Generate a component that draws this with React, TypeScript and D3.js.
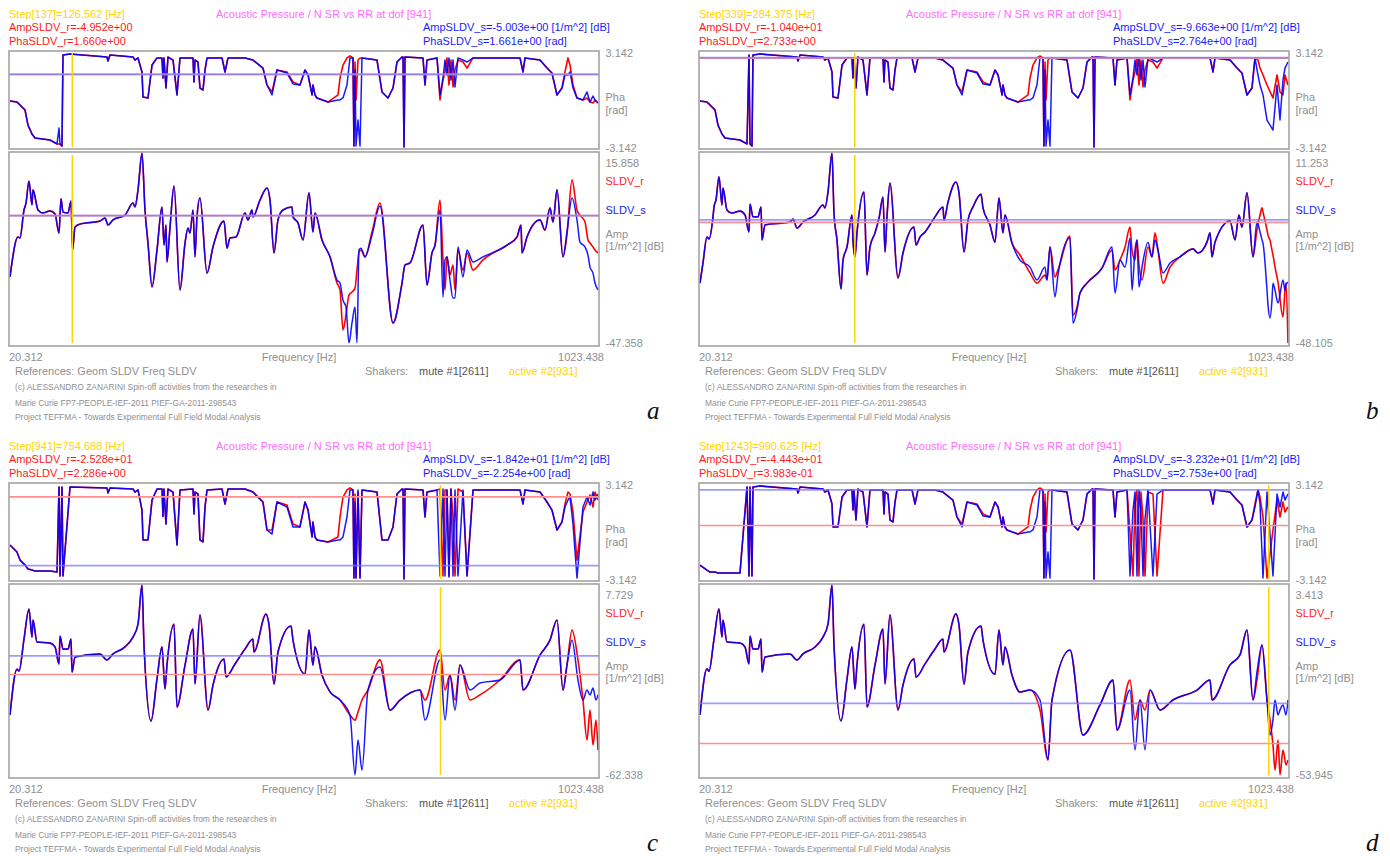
import React from 'react';
import * as d3 from 'd3';

// Frequency axis limits [Hz] and phase limits [rad]
const FREQ_MIN = 20.312;
const FREQ_MAX = 1023.438;
const PHA_MIN = -3.142;
const PHA_MAX = 3.142;

// Frequency grid of the phase traces [Hz]
const PHA_FREQ = [
  20.3, 32.2, 37.4, 45.9, 51.0, 57.8, 62.9, 88.5, 100.5, 103.9,
  105.6, 109.0, 110.7, 122.7, 185.8, 187.5, 190.9, 230.1, 233.5, 238.7,
  245.5, 247.2, 255.7, 262.6, 271.1, 279.6, 281.3, 283.0, 286.4, 289.8,
  298.4, 305.2, 310.3, 332.5, 334.2, 335.9, 341.0, 344.4, 349.6, 353.0,
  356.4, 382.0, 387.1, 392.2, 421.2, 434.8, 451.9, 458.7, 467.3, 475.8,
  492.9, 503.1, 515.0, 523.6, 528.8, 535.6, 537.2, 540.6, 544.0, 562.8,
  579.9, 583.3, 588.4, 595.2, 600.3, 605.4, 607.1, 608.9, 610.6, 614.0,
  617.4, 620.8, 646.4, 654.9, 665.2, 673.7, 680.5, 689.1, 690.8, 692.5,
  694.2, 724.9, 728.3, 731.7, 748.8, 753.9, 759.0, 762.4, 765.8, 769.2,
  772.6, 776.1, 779.5, 784.6, 793.1, 800.0, 810.2, 890.4, 895.5, 898.9,
  924.5, 936.4, 944.9, 953.5, 962.0, 967.1, 972.2, 975.7, 980.8, 987.6,
  997.8, 1004.7, 1009.8, 1014.9, 1018.3, 1023.4,
];

// Step 137: phase [rad]
const PHA_S_A = [
  -0.10, -0.17, -0.36, -0.69, -1.69, -2.28, -2.55, -2.68, -2.94, -1.89,
  -2.94, -3.08, 2.94, 3.01, 2.81, 2.55, 2.94, 2.81, 2.61, 2.75,
  1.82, 0.17, 0.10, 2.28, 2.75, 2.75, 1.42, 2.75, 0.76, 2.81,
  2.61, 0.30, 2.75, 2.75, 1.16, 2.61, 2.48, 0.76, 0.63, 1.95,
  2.75, 2.75, 1.82, 2.75, 2.75, 2.61, 2.08, 0.96, 0.30, 1.95,
  1.75, 1.03, 0.96, 1.95, 1.62, 0.30, 0.96, 0.30, 0.10, -0.17,
  -0.03, -0.03, 0.10, 0.96, 2.75, 2.75, -3.08, 1.95, -3.08, -1.36,
  -3.08, 2.75, 2.61, 0.50, 0.10, 0.76, 2.48, 2.81, 2.81, -3.14,
  2.81, 2.75, 0.96, 2.61, 2.75, 0.30, 1.42, 2.61, 1.62, 2.75,
  1.29, 2.61, 0.83, 2.75, 2.61, 2.48, 2.75, 2.75, 1.82, 2.75,
  2.61, 2.08, 1.75, 0.30, 0.76, 1.62, 1.62, 1.82, 0.76, 0.10,
  -0.03, 0.50, -0.17, 0.23, -0.03, -0.23,
];
const PHA_R_A = [
  -0.10, -0.17, -0.36, -0.69, -1.69, -2.28, -2.55, -2.68, -2.94, -2.94,
  -2.94, -3.08, 2.94, 3.01, 2.81, 2.55, 2.94, 2.81, 2.61, 2.75,
  1.82, 0.17, 0.10, 2.28, 2.75, 2.75, 1.42, 2.75, 0.76, 2.81,
  2.61, 0.30, 2.75, 2.75, 1.16, 2.61, 2.48, 0.76, 0.63, 1.95,
  2.75, 2.75, 1.82, 2.75, 2.75, 2.61, 2.08, 0.96, 0.50, 1.95,
  1.82, 1.16, 0.96, 1.95, 1.62, 0.30, 0.96, 0.30, 0.10, -0.17,
  0.30, 1.42, 2.28, 2.75, 2.88, 2.75, -3.08, 2.48, -0.03, 2.61,
  2.75, 2.75, 2.61, 0.50, 0.10, 0.76, 2.48, 2.81, 2.81, -3.14,
  2.81, 2.75, 0.96, 2.61, 2.75, -0.03, 1.29, 1.82, 2.75, 0.96,
  2.61, 0.83, 1.95, 2.61, 2.48, 2.08, 2.75, 2.75, 1.82, 2.75,
  2.61, 2.08, 1.75, 0.30, 0.76, 1.82, 2.75, 2.28, 0.96, 0.10,
  -0.03, 0.10, -0.17, -0.23, -0.03, -0.23,
];

// Step 339: phase [rad]
const PHA_S_B = [
  -0.10, -0.17, -0.36, -0.69, -1.69, -2.28, -2.55, -2.68, -2.94, 2.94,
  -2.94, -3.08, 2.94, 3.01, 2.81, 2.55, 2.94, 2.81, 2.61, 2.75,
  1.82, 0.17, 0.10, 2.28, 2.75, 2.75, 1.42, 2.75, 0.76, 2.81,
  2.61, 0.30, 2.75, 2.75, 1.16, 2.61, 2.48, 0.76, 0.63, 1.95,
  2.75, 2.75, 1.82, 2.75, 2.75, 2.61, 2.08, 0.96, 0.30, 1.95,
  1.75, 1.03, 0.96, 1.95, 1.62, 0.30, 0.96, 0.30, 0.10, -0.17,
  -0.03, -0.03, 0.10, 0.96, 2.75, 2.75, -3.08, 1.95, -3.08, -1.36,
  -3.08, 2.75, 2.61, 0.50, 0.10, 0.76, 2.48, 2.81, 2.81, -3.14,
  2.81, 2.75, 0.96, 2.61, 2.75, 0.30, 1.42, 2.61, 1.62, 2.75,
  1.29, 2.61, 0.83, 2.75, 2.61, 2.48, 2.75, 2.75, 1.82, 2.75,
  2.61, 2.08, 1.75, 0.30, 0.76, 2.75, 1.62, 0.96, 0.30, -1.36,
  -2.02, 0.96, -1.36, 1.29, 2.08, 2.48,
];
const PHA_R_B = [
  -0.10, -0.17, -0.36, -0.69, -1.69, -2.28, -2.55, -2.68, -2.94, 2.94,
  -2.94, -3.08, 2.94, 3.01, 2.81, 2.55, 2.94, 2.81, 2.61, 2.75,
  1.82, 0.17, 0.10, 2.28, 2.75, 2.75, 1.42, 2.75, 0.76, 2.81,
  2.61, 0.30, 2.75, 2.75, 1.16, 2.61, 2.48, 0.76, 0.63, 1.95,
  2.75, 2.75, 1.82, 2.75, 2.75, 2.61, 2.08, 0.96, 0.50, 1.95,
  1.82, 1.16, 0.96, 1.95, 1.62, 0.30, 0.96, 0.30, 0.10, -0.17,
  0.30, 1.42, 2.28, 2.75, 2.88, 2.75, -3.08, 2.48, -0.03, 2.61,
  2.75, 2.75, 2.61, 0.50, 0.10, 0.76, 2.48, 2.81, 2.81, -3.14,
  2.81, 2.75, 0.96, 2.61, 2.75, -0.03, 1.29, 1.82, 2.75, 0.96,
  2.61, 0.83, 1.95, 2.61, 2.48, 2.08, 2.75, 2.75, 1.82, 2.75,
  2.61, 2.08, 1.75, 0.30, 0.76, 2.75, 2.61, 2.08, 1.62, 0.96,
  0.10, 1.62, 0.50, 0.30, 1.62, 0.96,
];

// Step 941: phase [rad]
const PHA_S_C = [
  -0.89, -1.36, -1.89, -2.22, -2.48, -2.55, -2.61, -2.61, -2.68, 2.94,
  -2.94, 2.94, -2.94, 2.94, 2.88, 2.55, 2.88, 2.81, 2.61, 2.75,
  1.42, -0.56, -0.56, 2.08, 2.81, 2.81, 1.00, 2.81, 0.50, 2.81,
  2.61, -0.89, 2.75, 2.81, 1.16, 2.61, 2.48, -0.56, -0.69, 1.62,
  2.75, 2.81, 1.82, 2.81, 2.81, 2.61, 1.95, 0.10, -0.17, 1.95,
  1.62, 0.30, 0.30, 1.95, 1.42, -0.36, 0.63, -0.36, -0.56, -0.69,
  -0.56, -0.56, -0.36, 0.96, 2.75, 2.75, -3.08, 1.95, -3.08, 2.75,
  -3.08, 2.75, 2.61, -0.56, -0.56, 0.30, 2.48, 2.81, 2.81, -3.14,
  2.81, 2.75, 0.96, 2.61, 2.75, -2.94, 2.81, -2.94, 2.75, -3.01,
  2.81, -2.94, 2.75, -2.94, 2.75, -2.94, 2.75, 2.75, 1.82, 2.75,
  2.61, 1.95, 1.42, 0.10, 0.63, 1.62, 2.08, 2.28, 0.50, -3.08,
  1.62, 2.28, 1.75, 2.61, 2.08, 2.48,
];
const PHA_R_C = [
  -0.89, -1.36, -1.89, -2.22, -2.48, -2.55, -2.61, -2.61, -2.68, 2.94,
  -2.94, 2.94, -2.94, 2.94, 2.88, 2.55, 2.88, 2.81, 2.61, 2.75,
  1.42, -0.56, -0.56, 2.08, 2.81, 2.81, 1.00, 2.81, 0.50, 2.81,
  2.61, -0.89, 2.75, 2.81, 1.16, 2.61, 2.48, -0.56, -0.69, 1.62,
  2.75, 2.81, 1.82, 2.81, 2.81, 2.61, 1.95, 0.10, 0.10, 1.95,
  1.75, 0.50, 0.30, 1.95, 1.42, -0.36, 0.63, -0.36, -0.56, -0.69,
  -0.36, 0.96, 2.28, 2.75, 2.88, 2.75, -3.08, 2.48, -3.08, 2.61,
  -3.08, 2.75, 2.61, -0.56, -0.56, 0.30, 2.48, 2.81, 2.81, -3.14,
  2.81, 2.75, 0.96, 2.61, 2.75, 2.81, -2.94, 2.75, 2.75, -2.94,
  2.81, 1.00, -2.94, 2.81, 2.61, -2.94, 2.75, 2.75, 1.82, 2.75,
  2.61, 1.95, 1.42, 0.10, 0.63, 1.82, 2.61, 2.48, 1.29, -1.89,
  1.29, 1.95, 2.41, 1.62, 2.61, 2.08,
];

// Step 1243: phase [rad]
const PHA_S_D = [
  -2.22, -2.55, -2.68, -2.68, -2.75, -2.75, -2.75, -2.75, 2.94, -2.94,
  2.94, -2.94, 2.94, 3.01, 2.81, 2.55, 2.94, 2.81, 2.61, 2.75,
  1.82, 0.30, 0.30, 2.28, 2.75, 2.75, 1.42, 2.75, 0.76, 2.81,
  2.61, 0.30, 2.75, 2.75, 1.16, 2.61, 2.48, 0.76, 0.63, 1.95,
  2.75, 2.75, 1.82, 2.75, 2.75, 2.61, 2.08, 0.96, 0.30, 1.95,
  1.75, 1.03, 0.96, 1.95, 1.62, 0.30, 0.96, 0.30, 0.10, -0.17,
  -0.03, -0.03, 0.10, 0.96, 2.75, 2.75, -3.08, 1.95, -3.08, -1.36,
  -3.08, 2.75, 2.61, 0.50, 0.10, 0.76, 2.48, 2.81, 2.81, -3.14,
  2.81, 2.75, 0.96, 2.61, 2.75, -2.94, 1.42, 2.61, -2.94, 2.75,
  1.29, -2.94, 0.83, 2.75, -2.94, 2.48, 2.75, 2.75, 1.82, 2.75,
  2.61, 2.08, 1.75, 0.30, 0.76, 1.62, 2.75, 1.82, -3.08, 2.61,
  -2.94, 2.48, 1.62, 2.61, 2.08, 2.48,
];
const PHA_R_D = [
  -2.22, -2.55, -2.68, -2.68, -2.75, -2.75, -2.75, -2.75, 2.94, -2.94,
  2.94, -2.94, 2.94, 3.01, 2.81, 2.55, 2.94, 2.81, 2.61, 2.75,
  1.82, 0.30, 0.30, 2.28, 2.75, 2.75, 1.42, 2.75, 0.76, 2.81,
  2.61, 0.30, 2.75, 2.75, 1.16, 2.61, 2.48, 0.76, 0.63, 1.95,
  2.75, 2.75, 1.82, 2.75, 2.75, 2.61, 2.08, 0.96, 0.50, 1.95,
  1.82, 1.16, 0.96, 1.95, 1.62, 0.30, 0.96, 0.30, 0.10, -0.17,
  0.30, 1.42, 2.28, 2.75, 2.88, 2.75, -3.08, 2.48, -0.03, 2.61,
  2.75, 2.75, 2.61, 0.50, 0.10, 0.76, 2.48, 2.81, 2.81, -3.14,
  2.81, 2.75, 0.96, 2.61, 2.75, -0.03, -2.94, 1.82, 2.75, -2.94,
  2.61, 0.83, -2.94, 2.61, 2.48, -2.94, 2.75, 2.75, 1.82, 2.75,
  2.61, 2.08, 1.75, 0.30, 0.76, 1.82, 2.75, 2.28, 0.96, -3.08,
  0.10, 2.08, 0.96, 1.95, 1.29, 1.62,
];

// Step 137: amplitude [dB]
const AMP_FREQ_A = [
  20.3, 33.9, 37.4, 44.2, 47.6, 52.7, 57.8, 59.5, 68.1, 76.6,
  88.5, 97.1, 103.9, 107.3, 110.7, 119.3, 124.4, 127.0, 131.2, 139.7,
  173.8, 182.4, 187.5, 196.0, 216.5, 230.1, 233.5, 238.7, 245.5, 250.6,
  255.7, 262.6, 271.1, 279.6, 283.0, 286.4, 288.1, 293.3, 300.1, 310.3,
  318.9, 324.0, 327.4, 332.5, 335.9, 339.3, 344.4, 356.4, 366.6, 385.4,
  390.5, 395.6, 405.9, 421.2, 426.3, 433.1, 434.8, 446.8, 458.7, 463.9,
  470.7, 477.5, 486.0, 501.4, 503.1, 511.6, 520.2, 530.4, 537.2, 540.6,
  552.6, 566.2, 578.2, 583.3, 588.4, 593.5, 598.6, 603.8, 608.9, 612.3,
  615.7, 619.1, 625.9, 637.9, 651.5, 673.7, 689.1, 694.2, 702.7, 724.9,
  731.7, 740.2, 745.4, 753.9, 759.0, 762.4, 765.8, 770.9, 776.1, 779.5,
  784.6, 793.1, 800.0, 810.2, 827.2, 868.2, 885.2, 892.1, 893.8, 902.3,
  924.5, 933.0, 941.5, 946.7, 953.5, 963.7, 970.5, 979.1, 987.6, 992.7,
  1001.3, 1006.4, 1009.8, 1014.9, 1018.3, 1023.4,
];
const AMP_S_A = [
  -25.4, -12.1, -12.4, -3.1, -0.8, 6.5, -1.4, 3.6, -3.1, -4.1,
  -3.4, -4.4, -10.8, 0.6, -3.8, -4.1, -0.1, -16.4, -8.8, -7.8,
  -6.8, -5.8, -8.1, -6.4, -4.8, -0.8, -2.1, 3.6, 15.8, -3.1,
  -14.1, -28.7, -16.4, -2.1, -14.8, -8.1, -20.4, -8.8, 4.9, -29.7,
  -14.1, -9.1, -10.8, -3.1, -18.7, -5.4, 0.9, -24.1, -15.4, -6.8,
  -15.8, -12.4, -12.1, -4.1, -6.4, -3.1, -5.4, 0.2, 4.2, 0.2,
  -17.4, -6.4, -3.1, -2.1, -5.4, -7.4, -13.1, 2.6, -10.4, -4.1,
  -13.1, -18.7, -26.4, -27.4, -33.1, -35.4, -47.3, -40.7, -35.4, -47.3,
  -16.4, -15.8, -18.7, -11.4, -1.8, -40.7, -27.4, -21.4, -20.7, -8.1,
  -28.1, -17.4, -14.8, -3.1, -32.1, -19.7, -18.7, -26.4, -32.4, -32.4,
  -15.4, -25.4, -16.4, -20.4, -18.7, -14.8, -12.1, -8.1, -17.4, -12.1,
  -6.4, -9.8, -2.4, -7.1, 3.6, -18.7, -10.4, 0.9, -6.4, -13.8,
  -15.4, -18.1, -22.1, -24.1, -27.4, -29.7,
];
const AMP_R_A = [
  -25.4, -12.1, -12.4, -3.1, -0.8, 6.5, -1.4, 3.6, -3.1, -4.1,
  -3.4, -4.4, -10.8, 0.6, -3.8, -4.1, -0.1, -16.4, -8.8, -7.8,
  -6.8, -5.8, -8.1, -6.4, -4.8, -0.8, -2.1, 3.6, 15.8, -3.1,
  -14.1, -28.7, -16.4, -2.1, -14.8, -8.1, -20.4, -8.8, 4.9, -29.7,
  -14.1, -9.1, -10.8, -3.1, -18.7, -5.4, 0.9, -24.1, -15.4, -6.8,
  -15.8, -12.4, -12.1, -4.1, -6.4, -3.1, -5.4, 0.2, 4.2, 0.2,
  -17.4, -6.4, -3.1, -2.1, -5.4, -7.4, -13.1, 2.6, -10.4, -4.1,
  -13.1, -18.7, -27.4, -29.7, -43.0, -38.0, -31.4, -30.4, -29.1, -23.1,
  -17.1, -16.4, -18.7, -10.4, -0.8, -40.7, -27.4, -21.4, -20.7, -8.1,
  -28.1, -17.4, -14.8, 0.2, -19.7, -29.7, -18.7, -24.7, -21.4, -29.7,
  -16.4, -23.1, -17.4, -23.1, -19.7, -14.8, -12.1, -8.1, -17.4, -12.1,
  -6.4, -9.8, -2.4, -7.1, 3.6, -18.7, -11.4, 6.9, -3.1, -4.8,
  -7.1, -13.1, -14.1, -15.4, -16.4, -17.4,
];

// Step 339: amplitude [dB]
const AMP_FREQ_B = [
  20.3, 25.4, 32.2, 35.7, 42.5, 44.2, 47.6, 52.7, 57.8, 59.5,
  66.4, 74.9, 88.5, 97.1, 103.9, 105.6, 110.7, 119.3, 124.4, 126.1,
  131.2, 173.8, 179.0, 185.8, 196.0, 216.5, 230.1, 233.5, 238.7, 245.5,
  248.9, 254.0, 260.9, 264.3, 271.1, 279.6, 281.3, 284.7, 288.1, 300.1,
  305.2, 310.3, 318.9, 325.7, 332.5, 335.9, 339.3, 344.4, 358.1, 366.6,
  385.4, 388.8, 395.6, 404.2, 421.2, 434.8, 436.5, 443.4, 457.0, 462.2,
  470.7, 477.5, 486.0, 499.7, 503.1, 515.0, 523.6, 530.4, 537.2, 540.6,
  552.6, 566.2, 583.3, 595.2, 608.9, 612.3, 617.4, 625.9, 631.0, 651.5,
  656.6, 663.5, 668.6, 680.5, 706.1, 723.2, 728.3, 736.8, 745.4, 753.9,
  757.3, 762.4, 765.8, 769.2, 774.4, 784.6, 791.4, 796.5, 801.6, 810.2,
  822.2, 839.2, 861.4, 869.9, 885.2, 890.4, 893.8, 898.9, 924.5, 933.0,
  939.8, 944.9, 953.5, 963.7, 970.5, 975.7, 979.1, 980.8, 987.6, 989.3,
  992.7, 996.1, 997.8, 1001.3, 1006.4, 1014.9, 1018.3, 1020.0, 1023.4,
];
const AMP_S_B = [
  -29.4, -23.1, -15.0, -15.6, -8.7, -5.6, -3.4, 3.8, -5.0, 0.3,
  -6.6, -7.5, -6.9, -8.1, -13.4, -4.7, -8.7, -8.7, -5.6, -15.9,
  -11.2, -10.3, -9.4, -12.2, -10.3, -8.1, -5.0, -5.9, -0.9, 11.2,
  -7.5, -15.9, -31.2, -22.2, -18.1, -8.1, -15.9, -21.2, -13.7, -0.9,
  -26.9, -18.1, -13.7, -9.1, -2.5, -19.7, -8.7, 1.9, -27.8, -20.0,
  -11.9, -17.5, -15.0, -13.4, -8.7, -5.6, -9.7, -4.1, 2.2, -1.2,
  -19.7, -9.7, -5.6, -1.6, -5.9, -11.2, -16.6, -2.8, -13.7, -8.1,
  -16.9, -22.2, -24.4, -28.4, -24.4, -28.4, -18.1, -33.7, -26.9, -15.3,
  -41.9, -37.8, -32.5, -29.4, -24.7, -18.1, -32.5, -22.2, -24.4, -15.3,
  -31.6, -19.1, -15.9, -30.6, -24.4, -16.6, -21.2, -15.9, -19.1, -26.2,
  -23.1, -21.2, -18.7, -20.0, -16.6, -13.7, -21.2, -16.6, -10.0, -15.9,
  -8.1, -11.9, -1.2, -21.2, -10.3, -13.4, -15.9, -16.9, -31.6, -36.2,
  -40.3, -34.7, -29.4, -31.6, -35.6, -28.4, -31.6, -30.0, -29.1,
];
const AMP_R_B = [
  -29.4, -23.1, -15.0, -15.6, -8.7, -5.6, -3.4, 3.8, -5.0, 0.3,
  -6.6, -7.5, -6.9, -8.1, -13.4, -4.7, -8.7, -8.7, -5.6, -15.9,
  -11.2, -10.3, -9.4, -12.2, -10.3, -8.1, -5.0, -5.9, -0.9, 11.2,
  -7.5, -15.9, -31.2, -22.2, -18.1, -8.1, -15.9, -21.2, -13.7, -0.9,
  -26.9, -18.1, -13.7, -9.1, -2.5, -19.7, -8.7, 1.9, -27.8, -20.0,
  -11.9, -17.5, -15.0, -13.4, -8.7, -5.6, -9.7, -4.1, 2.2, -1.2,
  -19.7, -9.7, -5.6, -1.6, -5.9, -11.2, -16.6, -2.8, -13.7, -8.1,
  -16.9, -20.6, -26.2, -29.4, -26.9, -28.4, -18.1, -27.5, -25.3, -14.7,
  -39.4, -36.9, -32.5, -29.4, -24.7, -19.1, -25.3, -22.2, -18.1, -11.9,
  -19.1, -22.2, -15.9, -23.7, -28.4, -18.1, -21.2, -13.7, -19.1, -29.4,
  -24.4, -21.2, -18.7, -20.0, -16.6, -13.7, -21.2, -16.6, -10.0, -15.9,
  -8.1, -11.9, -1.2, -21.2, -12.8, -8.1, -5.9, -7.2, -12.8, -14.4,
  -15.9, -19.1, -20.6, -24.4, -29.1, -40.0, -31.6, -29.4, -48.1,
];

// Step 941: amplitude [dB]
const AMP_FREQ_C = [
  20.3, 32.2, 35.7, 44.2, 52.7, 57.8, 59.5, 66.4, 88.5, 97.1,
  103.9, 105.6, 110.7, 119.3, 124.4, 126.1, 131.2, 173.8, 185.8, 196.0,
  216.5, 230.1, 238.7, 245.5, 248.9, 260.9, 271.1, 279.6, 284.7, 288.1,
  300.1, 305.2, 318.9, 332.5, 335.9, 344.4, 358.1, 366.6, 385.4, 388.8,
  404.2, 421.2, 434.8, 436.5, 457.0, 462.2, 470.7, 477.5, 499.7, 503.1,
  523.6, 530.4, 537.2, 540.6, 552.6, 566.2,
  583.3, 600.3, 608.9, 614.0, 620.8, 631.0, 651.5, 668.6, 685.6, 719.8,
  728.3, 753.9, 762.4, 770.9, 779.5, 788.0, 805.1, 822.1, 856.2, 890.4,
  895.5, 924.5, 941.5, 953.5, 963.7, 970.5, 979.1, 989.3, 997.8, 1004.7,
  1009.8, 1014.9, 1020.0, 1023.4,
];
const AMP_S_C = [
  -40.2, -23.3, -24.0, -12.2, -1.1, -11.5, -5.2, -13.3, -13.7, -15.1,
  -21.4, -11.1, -15.9, -15.9, -12.2, -24.4, -18.8, -17.7, -19.9, -17.7,
  -15.1, -11.5, -6.7, 7.7, -14.4, -42.4, -26.9, -15.1, -30.6, -21.8,
  -6.7, -37.3, -21.8, -8.5, -28.8, -3.3, -38.4, -29.2, -19.6, -26.2,
  -21.4, -15.9, -12.2, -17.0, -3.0, -7.0, -28.8, -17.0, -7.4, -12.6,
  -25.1, -8.9, -21.8, -15.1, -25.5, -31.7,
  -34.7, -40.2, -62.3, -49.4, -60.5, -31.0, -22.5, -38.4, -34.7, -31.0,
  -42.1, -19.9, -42.1, -25.5, -38.4, -21.8, -31.0, -28.4, -27.3, -19.9,
  -31.0, -18.1, -12.6, -5.2, -31.0, -21.8, -12.6, -27.3, -34.7, -31.0,
  -32.8, -30.3, -34.7, -32.8,
];
const AMP_R_C = [
  -40.2, -23.3, -24.0, -12.2, -1.1, -11.5, -5.2, -13.3, -13.7, -15.1,
  -21.4, -11.1, -15.9, -15.9, -12.2, -24.4, -18.8, -17.7, -19.9, -17.7,
  -15.1, -11.5, -6.7, 7.7, -14.4, -42.4, -26.9, -15.1, -30.6, -21.8,
  -6.7, -37.3, -21.8, -8.5, -28.8, -3.3, -38.4, -29.2, -19.6, -26.2,
  -21.4, -15.9, -12.2, -17.0, -3.0, -7.0, -28.8, -17.0, -7.4, -12.6,
  -25.1, -8.9, -21.8, -15.1, -25.5, -31.7,
  -34.7, -40.2, -42.1, -39.1, -34.7, -31.0, -19.9, -38.4, -34.7, -31.0,
  -34.7, -16.2, -31.0, -25.5, -34.7, -21.8, -34.7, -32.8, -27.3, -19.9,
  -31.0, -18.1, -12.6, -5.2, -31.0, -21.8, -8.9, -19.9, -34.7, -49.4,
  -38.4, -51.3, -42.1, -53.1,
];

// Step 1243: amplitude [dB]
const AMP_FREQ_D = [
  20.3, 32.2, 35.7, 44.2, 52.7, 57.8, 59.5, 66.4, 88.5, 97.1,
  103.9, 105.6, 110.7, 119.3, 124.4, 126.1, 131.2, 173.8, 185.8, 196.0,
  216.5, 230.1, 238.7, 245.5, 248.9, 260.9, 271.1, 279.6, 284.7, 288.1,
  300.1, 305.2, 318.9, 332.5, 335.9, 344.4, 358.1, 366.6, 385.4, 388.8,
  404.2, 421.2, 434.8, 436.5, 457.0, 462.2, 470.7, 477.5, 499.7, 503.1,
  523.6, 530.4, 537.2, 540.6, 552.6, 566.2,
  583.3, 600.3, 614.0, 620.8, 651.5, 673.7, 702.7, 724.9, 731.7, 753.9,
  762.4, 770.9, 779.5, 788.0, 805.1, 827.2, 868.2, 890.4, 893.8, 924.5,
  941.5, 953.5, 963.7, 970.5, 979.1, 987.6, 992.7, 997.8, 1001.3, 1006.4,
  1009.8, 1014.9, 1020.0, 1023.4,
];
const AMP_S_D = [
  -35.8, -21.9, -22.6, -12.9, -3.8, -12.3, -7.2, -13.8, -14.1, -15.3,
  -20.4, -12.0, -15.9, -15.9, -12.9, -22.9, -18.3, -17.4, -19.2, -17.4,
  -15.3, -12.3, -8.4, 3.4, -14.7, -37.6, -25.0, -15.3, -28.0, -20.7,
  -8.4, -33.4, -20.7, -9.9, -26.5, -5.6, -34.3, -26.8, -18.9, -24.4,
  -20.4, -15.9, -12.9, -16.8, -5.3, -8.7, -26.5, -16.8, -9.0, -13.2,
  -23.5, -10.2, -20.7, -15.3, -23.8, -28.9,
  -28.3, -31.3, -49.4, -31.3, -16.2, -41.9, -32.8, -25.3, -40.4, -28.3,
  -46.4, -31.3, -46.4, -28.3, -34.3, -31.3, -28.3, -25.3, -31.3, -20.7,
  -17.7, -10.2, -31.3, -22.9, -14.7, -31.3, -41.9, -37.3, -31.3, -35.8,
  -34.3, -32.8, -35.8, -31.3,
];
const AMP_R_D = [
  -35.8, -21.9, -22.6, -12.9, -3.8, -12.3, -7.2, -13.8, -14.1, -15.3,
  -20.4, -12.0, -15.9, -15.9, -12.9, -22.9, -18.3, -17.4, -19.2, -17.4,
  -15.3, -12.3, -8.4, 3.4, -14.7, -37.6, -25.0, -15.3, -28.0, -20.7,
  -8.4, -33.4, -20.7, -9.9, -26.5, -5.6, -34.3, -26.8, -18.9, -24.4,
  -20.4, -15.9, -12.9, -16.8, -5.3, -8.7, -26.5, -16.8, -9.0, -13.2,
  -23.5, -10.2, -20.7, -15.3, -23.8, -28.9,
  -28.3, -34.3, -49.4, -31.3, -16.2, -41.9, -32.8, -25.3, -40.4, -25.3,
  -37.3, -31.3, -34.3, -28.3, -34.3, -31.3, -28.3, -25.3, -31.3, -20.7,
  -17.7, -10.2, -31.3, -25.3, -14.7, -31.3, -37.3, -44.9, -52.4, -43.4,
  -53.9, -46.4, -50.9, -49.4,
];

// Per-step readouts
const TAGS = ['a', 'b', 'c', 'd'];
const STEP_INDEX = [137, 339, 941, 1243];
const STEP_HZ = [126.562, 284.375, 754.688, 990.625];
const AMP_READ_R = [-4.952, -10.40, -25.28, -44.43];
const AMP_READ_S = [-5.003, -9.663, -18.42, -32.32];
const PHA_READ_R = [1.660, 2.733, 2.286, 0.3983];
const PHA_READ_S = [1.661, 2.764, -2.254, 2.753];
const AMP_TOP = [15.858, 11.253, 7.729, 3.413];
const AMP_BOTTOM = [-47.358, -48.105, -62.338, -53.945];
const PHA_R = [PHA_R_A, PHA_R_B, PHA_R_C, PHA_R_D];
const PHA_S = [PHA_S_A, PHA_S_B, PHA_S_C, PHA_S_D];
const AMP_FREQS = [AMP_FREQ_A, AMP_FREQ_B, AMP_FREQ_C, AMP_FREQ_D];
const AMP_R = [AMP_R_A, AMP_R_B, AMP_R_C, AMP_R_D];
const AMP_S = [AMP_S_A, AMP_S_B, AMP_S_C, AMP_S_D];

const FONT = "'Liberation Sans', Arial, Helvetica, sans-serif";
const GRAY = '#8f8f8f';
const RED = '#ff1a1a';
const BLUE = '#1a1aff';
const YELLOW = '#ffd400';
const MAGENTA = '#ff6cff';

function expo(v: number): string {
  const [mant, ex] = v.toExponential(3).split('e');
  const sign = ex.startsWith('-') ? '-' : '+';
  const digits = ex.replace(/^[+-]/, '').padStart(2, '0');
  return `${mant}e${sign}${digits}`;
}

function Panel({ k }: { k: number }) {
  const ox = (k % 2) * 690;
  const oy = Math.floor(k / 2) * 432;
  const tag = TAGS[k];
  const freqs = AMP_FREQS[k];

  const x = d3.scaleLinear().domain([FREQ_MIN, FREQ_MAX]).range([ox + 10, ox + 598]);
  const yPha = d3.scaleLinear().domain([PHA_MIN, PHA_MAX]).range([oy + 147, oy + 52]);
  const yAmp = d3.scaleLinear().domain([AMP_BOTTOM[k], AMP_TOP[k]]).range([oy + 343, oy + 153]);

  const phaLine = d3
    .line<number>()
    .defined((v, i) => v != null && PHA_FREQ[i] != null)
    .x((_, i) => x(PHA_FREQ[i]))
    .y((v) => yPha(v));
  // amplitude traces: monotone interpolation keeps every sample, without overshoot
  const ampLine = d3
    .line<number>()
    .defined((v, i) => v != null && freqs[i] != null)
    .x((_, i) => x(freqs[i]))
    .y((v) => yAmp(v))
    .curve(d3.curveMonotoneX);

  const phaBox = { x: ox + 9, y: oy + 51, w: 590, h: 98 };
  const ampBox = { x: ox + 9, y: oy + 152, w: 590, h: 194 };
  const clipP = `clip-pha-${tag}`;
  const clipA = `clip-amp-${tag}`;
  const xc = x(STEP_HZ[k]);
  const rx = ox + 605.5;

  const redCurve = { fill: 'none', stroke: '#ff0000', strokeWidth: 1.6, strokeLinejoin: 'round' as const };
  const blueCurve = {
    fill: 'none',
    stroke: '#0000ff',
    strokeOpacity: 0.9,
    strokeWidth: 1.5,
    strokeLinejoin: 'round' as const,
  };

  return (
    <g fontFamily={FONT}>
      <defs>
        <clipPath id={clipP}>
          <rect x={phaBox.x} y={phaBox.y} width={phaBox.w} height={phaBox.h} />
        </clipPath>
        <clipPath id={clipA}>
          <rect x={ampBox.x} y={ampBox.y} width={ampBox.w} height={ampBox.h} />
        </clipPath>
      </defs>

      {/* header readouts */}
      <g fontSize={11}>
        <text x={ox + 9} y={oy + 18} fill={YELLOW}>
          {`Step[${STEP_INDEX[k]}]=${STEP_HZ[k].toFixed(3)} [Hz]`}
        </text>
        <text x={ox + 216} y={oy + 18} fill={MAGENTA}>
          Acoustic Pressure / N SR vs RR at dof [941]
        </text>
        <text x={ox + 9} y={oy + 31} fill={RED}>{`AmpSLDV_r=${expo(AMP_READ_R[k])}`}</text>
        <text x={ox + 9} y={oy + 45} fill={RED}>{`PhaSLDV_r=${expo(PHA_READ_R[k])}`}</text>
        <text x={ox + 423} y={oy + 31} fill={BLUE}>
          {`AmpSLDV_s=${expo(AMP_READ_S[k])} [1/m^2] [dB]`}
        </text>
        <text x={ox + 423} y={oy + 45} fill={BLUE}>
          {`PhaSLDV_s=${expo(PHA_READ_S[k])} [rad]`}
        </text>
      </g>

      {/* phase plot */}
      <g clipPath={`url(#${clipP})`}>
        <path d={phaLine(PHA_R[k]) || ''} {...redCurve} />
        <path d={phaLine(PHA_S[k]) || ''} {...blueCurve} />
        <line x1={phaBox.x} x2={phaBox.x + phaBox.w} y1={yPha(PHA_READ_R[k])} y2={yPha(PHA_READ_R[k])}
          stroke="#ff8f8f" strokeWidth={1.7} />
        <line x1={phaBox.x} x2={phaBox.x + phaBox.w} y1={yPha(PHA_READ_S[k])} y2={yPha(PHA_READ_S[k])}
          stroke="#7a7aff" strokeOpacity={0.75} strokeWidth={1.7} />
        <line x1={xc} x2={xc} y1={phaBox.y + 2} y2={phaBox.y + phaBox.h - 2} stroke={YELLOW} strokeWidth={1.5} />
      </g>
      <rect x={phaBox.x} y={phaBox.y} width={phaBox.w} height={phaBox.h} fill="none" stroke="#a3a3a3" strokeWidth={1.6} />

      {/* amplitude plot */}
      <g clipPath={`url(#${clipA})`}>
        <path d={ampLine(AMP_R[k]) || ''} {...redCurve} />
        <path d={ampLine(AMP_S[k]) || ''} {...blueCurve} />
        <line x1={ampBox.x} x2={ampBox.x + ampBox.w} y1={yAmp(AMP_READ_R[k])} y2={yAmp(AMP_READ_R[k])}
          stroke="#ff8f8f" strokeWidth={1.7} />
        <line x1={ampBox.x} x2={ampBox.x + ampBox.w} y1={yAmp(AMP_READ_S[k])} y2={yAmp(AMP_READ_S[k])}
          stroke="#7a7aff" strokeOpacity={0.75} strokeWidth={1.7} />
        <line x1={xc} x2={xc} y1={ampBox.y + 3} y2={ampBox.y + ampBox.h - 3} stroke={YELLOW} strokeWidth={1.5} />
      </g>
      <rect x={ampBox.x} y={ampBox.y} width={ampBox.w} height={ampBox.h} fill="none" stroke="#a3a3a3" strokeWidth={1.6} />

      {/* right-hand scale labels */}
      <g fontSize={11} fill={GRAY}>
        <text x={rx} y={oy + 57}>{PHA_MAX.toFixed(3)}</text>
        <text x={rx} y={oy + 101}>Pha</text>
        <text x={rx} y={oy + 114}>[rad]</text>
        <text x={rx} y={oy + 152}>{PHA_MIN.toFixed(3)}</text>
        <text x={rx} y={oy + 166.5}>{AMP_TOP[k].toFixed(3)}</text>
        <text x={rx} y={oy + 184.5} fill={RED}>SLDV_r</text>
        <text x={rx} y={oy + 214} fill={BLUE}>SLDV_s</text>
        <text x={rx} y={oy + 237.5}>Amp</text>
        <text x={rx} y={oy + 250}>[1/m^2] [dB]</text>
        <text x={rx} y={oy + 346.5}>{AMP_BOTTOM[k].toFixed(3)}</text>
      </g>

      {/* frequency axis + footer */}
      <g fontSize={11} fill={GRAY}>
        <text x={ox + 9} y={oy + 360.5}>{FREQ_MIN.toFixed(3)}</text>
        <text x={ox + 299} y={oy + 360.5} textAnchor="middle">Frequency [Hz]</text>
        <text x={ox + 604} y={oy + 360.5} textAnchor="end">{FREQ_MAX.toFixed(3)}</text>
        <text x={ox + 15} y={oy + 375}>References: Geom SLDV Freq SLDV</text>
        <text x={ox + 365} y={oy + 375}>Shakers:</text>
        <text x={ox + 419} y={oy + 375} fill="#555">mute #1[2611]</text>
        <text x={ox + 509} y={oy + 375} fill={YELLOW}>active #2[931]</text>
      </g>
      <g fontSize={8.4} fill={GRAY}>
        <text x={ox + 15} y={oy + 390}>(c) ALESSANDRO ZANARINI Spin-off activities from the researches in</text>
        <text x={ox + 15} y={oy + 405.5}>Marie Curie FP7-PEOPLE-IEF-2011 PIEF-GA-2011-298543</text>
        <text x={ox + 15} y={oy + 420}>Project TEFFMA - Towards Experimental Full Field Modal Analysis</text>
      </g>
      <text x={ox + (k % 2 === 0 ? 647 : 676)} y={oy + 419} fontFamily="'Liberation Serif', 'DejaVu Serif', serif"
        fontStyle="italic" fontSize={25} fill="#111">
        {tag}
      </text>
    </g>
  );
}

export default function App() {
  return (
    <div style={{ position: 'absolute', left: 0, top: 0 }}>
      <svg width={1390} height={856} viewBox="0 0 1390 856" style={{ display: 'block', background: '#fff' }}>
        <rect x={0} y={0} width={1390} height={856} fill="#fff" />
        {[0, 1, 2, 3].map((k) => (
          <Panel key={k} k={k} />
        ))}
      </svg>
    </div>
  );
}
